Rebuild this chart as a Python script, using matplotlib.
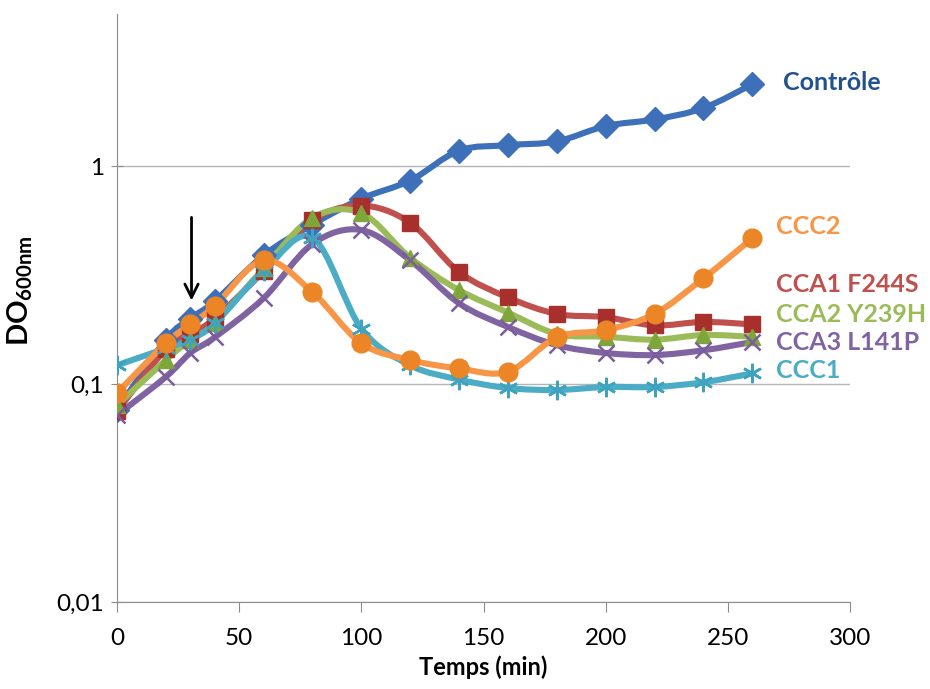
import numpy as np
import matplotlib
matplotlib.use("Agg")
import matplotlib.pyplot as plt
from matplotlib.path import Path
from matplotlib.patches import PathPatch
from matplotlib.ticker import FixedLocator, FixedFormatter, NullLocator

plt.rcParams["font.family"] = ["Lato", "DejaVu Sans"]
plt.rcParams["mathtext.fontset"] = "custom"
plt.rcParams["mathtext.bf"] = "Lato:bold"
plt.rcParams["mathtext.rm"] = "Lato"

# time points (min)
temps = [0, 20, 30, 40, 60, 80, 100, 120, 140, 160, 180, 200, 220, 240, 260]

controle = [0.076, 0.16, 0.2, 0.24, 0.39, 0.54, 0.71, 0.86, 1.18, 1.25, 1.30, 1.53, 1.64, 1.85, 2.38]
cca1 = [0.075, 0.145, 0.17, 0.2, 0.33, 0.565, 0.66, 0.55, 0.327, 0.25, 0.21, 0.203, 0.186, 0.193, 0.188]
cca2 = [0.08, 0.129, 0.16, 0.19, 0.34, 0.58, 0.61, 0.38, 0.27, 0.213, 0.17, 0.165, 0.16, 0.168, 0.165]
cca3 = [0.072, 0.108, 0.139, 0.164, 0.248, 0.44, 0.51, 0.37, 0.235, 0.183, 0.151, 0.139, 0.136, 0.143, 0.156]
ccc1 = [0.122, 0.146, 0.16, 0.19, 0.33, 0.47, 0.18, 0.122, 0.105, 0.096, 0.094, 0.097, 0.097, 0.102, 0.112]
ccc2 = [0.091, 0.154, 0.188, 0.228, 0.37, 0.264, 0.154, 0.129, 0.118, 0.114, 0.164, 0.177, 0.21, 0.306, 0.467]

noms = ["Contrôle", "CCA1 F244S", "CCA2 Y239H", "CCA3 L141P", "CCC1", "CCC2"]


def courbe_lisse(ax, x, y, couleur, lw):
    # smooth line like Excel: Catmull-Rom in (x, log y), drawn as Bezier segments
    pts = np.column_stack([np.array(x, float), np.log10(y)])
    n = len(pts)
    verts = [pts[0]]
    codes = [Path.MOVETO]
    for i in range(n - 1):
        p0 = pts[max(i - 1, 0)]
        p1 = pts[i]
        p2 = pts[i + 1]
        p3 = pts[min(i + 2, n - 1)]
        c1 = p1 + (p2 - p0) / 6
        c2 = p2 - (p3 - p1) / 6
        verts += [c1, c2, p2]
        codes += [Path.CURVE4] * 3
    verts = np.array(verts)
    verts[:, 1] = 10 ** verts[:, 1]
    patch = PathPatch(Path(verts, codes), fill=False, edgecolor=couleur, lw=lw,
                      capstyle="round", joinstyle="round", transform=ax.transData)
    ax.add_patch(patch)


fig = plt.figure(figsize=(9.3, 6.89), dpi=100)
ax = fig.add_axes([0.1258, 0.1263, 0.7882, 0.8534])
ax.set_yscale("log")
ax.set_xlim(0, 300)
ax.set_ylim(0.01, 5)

series = [
    (controle, "#3d70b8", "D", 12, "#3d70b8"),
    (cca1, "#c0504d", "s", 12, "#a8302c"),
    (cca2, "#9bbb59", "^", 12, "#7fa63a"),
    (cca3, "#8064a2", "x", 11, "#7b5d9e"),
    (ccc1, "#4bacc6", (6, 2, 0), 14, "#3ea3bf"),
    (ccc2, "#f79646", "o", 13.5, "#ec8526"),
]

for vals, couleur, mk, ms, mcol in series:
    courbe_lisse(ax, temps, vals, couleur, 4.4)
    if mk in ("x",) or isinstance(mk, tuple):
        ax.plot(temps, vals, ls="none", marker=mk, ms=ms, mec=mcol, mew=1.8, zorder=3)
    else:
        ax.plot(temps, vals, ls="none", marker=mk, ms=ms, mfc=mcol, mec=mcol, zorder=3)

# gridlines and axes
ax.yaxis.set_major_locator(FixedLocator([0.01, 0.1, 1]))
ax.yaxis.set_major_formatter(FixedFormatter(["0,01", "0,1", "1"]))
ax.yaxis.set_minor_locator(NullLocator())
ax.set_xticks([0, 50, 100, 150, 200, 250, 300])
ax.grid(axis="y", color="#b5b5b5", lw=1)
ax.set_axisbelow(True)
for s in ["top", "right"]:
    ax.spines[s].set_visible(False)
for s in ["left", "bottom"]:
    ax.spines[s].set_color("#8c8c8c")
ax.tick_params(axis="y", length=9, direction="inout", color="#8c8c8c", labelsize=17.5, pad=5)
ax.tick_params(axis="x", length=7, color="#8c8c8c", direction="out", labelsize=17.5, pad=12)

ax.set_xlabel("Temps (min)", fontsize=17, fontweight="bold", labelpad=4)
ax.set_ylabel(r"$\mathbf{DO_{600nm}}$", fontsize=21)
ax.yaxis.set_label_coords(-0.112, 0.53)

# arrow at time of addition
ax.annotate("", xy=(30.5, 0.235), xytext=(30.5, 0.6),
            arrowprops=dict(arrowstyle="->", color="black", lw=2, mutation_scale=24))

# series labels
etiquettes = [
    ("Contrôle", 783, 83, "#22518f"),
    ("CCC2", 776, 227, "#f79646"),
    ("CCA1 F244S", 776, 285, "#c0504d"),
    ("CCA2 Y239H", 776, 315, "#9bbb59"),
    ("CCA3 L141P", 776, 343, "#8064a2"),
    ("CCC1", 776, 371, "#4bacc6"),
]
for txt, px, py, col in etiquettes:
    fig.text(px / 930, 1 - py / 689, txt, color=col, fontsize=18, fontweight="bold",
             va="center", ha="left")

fig.savefig("out.png", dpi=100)
